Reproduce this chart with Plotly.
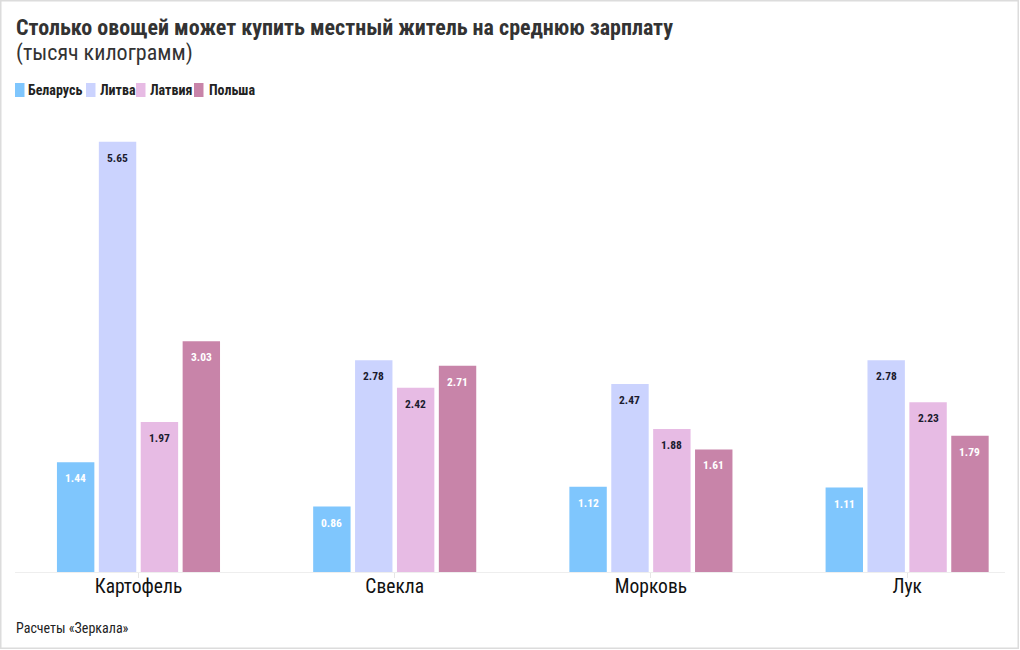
import plotly.graph_objects as go

categories = ["Картофель", "Свекла", "Морковь", "Лук"]
series_names = ["Беларусь", "Литва", "Латвия", "Польша"]
belarus = [1.44, 0.86, 1.12, 1.11]
lithuania = [5.65, 2.78, 2.47, 2.78]
latvia = [1.97, 2.42, 1.88, 2.23]
poland = [3.03, 2.71, 1.61, 1.79]
series_values = [belarus, lithuania, latvia, poland]
colors = ["#7fc6fd", "#cbd3fe", "#e7bbe4", "#c884a9"]
label_colors = ["#ffffff", "#1b1b2f", "#1b1b2f", "#ffffff"]

FONT = "Roboto Condensed, Liberation Sans Narrow, DejaVu Sans Condensed, Roboto, sans-serif"

W, H = 1020, 650
ml, mr, mt, mb = 15, 15, 100, 78
BARGAP = 0.346
BARGROUPGAP = 0.107

fig = go.Figure()
for name, vals, c in zip(series_names, series_values, colors):
    fig.add_trace(go.Bar(
        name=name, x=categories, y=vals, marker=dict(color=c, line=dict(width=0)),
        hoverinfo="x+y+name",
    ))

pw = W - ml - mr
ph = H - mt - mb
def px(x):
    return (x - ml) / pw
def py(y):
    return (H - mb - y) / ph

annotations = []
# value labels inside the top of each bar
n = len(series_names)
slot = (1 - BARGAP) / n
for k, (vals, lc) in enumerate(zip(series_values, label_colors)):
    off = (k - (n - 1) / 2) * slot
    for i, v in enumerate(vals):
        annotations.append(dict(
            x=i + off, y=v, xref="x", yref="y", text=f"<b>{v:.2f}</b>",
            showarrow=False, yanchor="middle", yshift=-16,
            font=dict(family=FONT, size=11.5, color=lc)))

# custom compact legend
legend_sym_x = [15, 86, 136, 194]
legend_txt_x = [27, 98.5, 149, 207.5]
legend_y = 90
shapes = []
for name, c, sx, tx in zip(series_names, colors, legend_sym_x, legend_txt_x):
    x0, x1 = px(sx), px(sx + 9.5)
    y0, y1 = py(legend_y + 7), py(legend_y - 7)
    shapes.append(dict(type="rect", xref="paper", yref="paper", x0=x0, x1=x1, y0=y0, y1=y1,
                       fillcolor=c, line=dict(width=0), layer="above"))
    annotations.append(dict(text=f"<b>{name}</b>", xref="paper", yref="paper",
                            x=px(tx), y=py(legend_y), xanchor="left", yanchor="middle",
                            showarrow=False, xshift=-1,
                            font=dict(family=FONT, size=14, color="#222222")))

annotations += [
    dict(text="<b>Столько овощей может купить местный житель на среднюю зарплату</b>",
         xref="paper", yref="paper", x=px(15), y=py(28), xanchor="left", yanchor="middle",
         showarrow=False, xshift=-1, font=dict(family=FONT, size=22, color="#333333")),
    dict(text="(тысяч килограмм)",
         xref="paper", yref="paper", x=px(15), y=py(53), xanchor="left", yanchor="middle",
         showarrow=False, xshift=-1, font=dict(family=FONT, size=22, color="#333333")),
    dict(text="Расчеты «Зеркала»",
         xref="paper", yref="paper", x=px(15), y=py(628), xanchor="left", yanchor="middle",
         showarrow=False, xshift=-1, font=dict(family=FONT, size=14, color="#222222")),
]

shapes.append(dict(type="rect", xref="paper", yref="paper",
                   x0=px(0.75), x1=px(W - 1.75), y0=py(H - 1.75), y1=py(0.75),
                   line=dict(color="#dcdcdc", width=1.5), fillcolor="rgba(0,0,0,0)", layer="above"))

fig.update_layout(
    width=W, height=H,
    margin=dict(l=ml, r=mr, t=mt, b=mb),
    paper_bgcolor="white", plot_bgcolor="white",
    barmode="group", bargap=BARGAP, bargroupgap=BARGROUPGAP,
    font=dict(family=FONT, color="#222222"),
    showlegend=False,
    xaxis=dict(type="category", range=[-0.482, 3.382], showgrid=False,
               showline=True, linecolor="#eeeeee", linewidth=1,
               ticks="outside", ticklen=5, tickcolor="#e6e6e6", ticklabelstandoff=-8,
               tickfont=dict(family=FONT, size=19.5, color="#111111"), fixedrange=True),
    yaxis=dict(range=[0, 6.2], visible=False, fixedrange=True),
    annotations=annotations,
    shapes=shapes,
)

fig.write_html("out.html")
